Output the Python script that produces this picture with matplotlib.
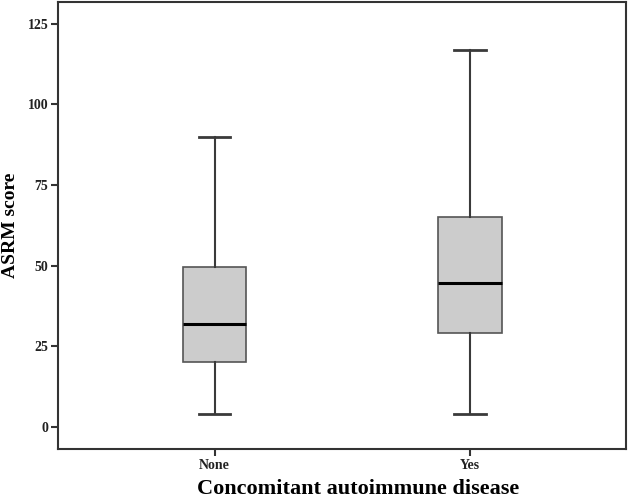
import matplotlib
matplotlib.use("Agg")
import matplotlib.pyplot as plt

categories = ["None", "Yes"]
whisker_low = [4, 4]
q1 = [20.0, 29.0]
median = [32.0, 44.5]
q3 = [49.5, 65.0]
whisker_high = [90, 117]
yticks = [0, 25, 50, 75, 100, 125]

plt.rcParams['font.family'] = ['Liberation Serif', 'DejaVu Serif']

fig = plt.figure(figsize=(6.29, 5.01), dpi=100)
ax = fig.add_axes([58/629, (501-449.3)/501, 568/629, 447.3/501])

stats = []
for c, lo, a, m, b, hi in zip(categories, whisker_low, q1, median, q3, whisker_high):
    stats.append(dict(label=c, whislo=lo, q1=a, med=m, q3=b, whishi=hi, fliers=[]))

edge = "#3a3a3a"
ax.bxp(stats, positions=[1, 2], widths=0.25, patch_artist=True, showfliers=False,
       boxprops=dict(facecolor="#cccccc", edgecolor="#555555", linewidth=1.2),
       medianprops=dict(color="black", linewidth=2.2),
       whiskerprops=dict(color=edge, linewidth=1.5),
       capprops=dict(color=edge, linewidth=2.0),
       capwidths=0.124)

ax.set_xlim(0.3875, 2.61)
ax.set_ylim(-7.0, 131.8)
ax.set_yticks(yticks)
ax.set_yticklabels([str(v) for v in yticks])
ax.set_xticks([1, 2])
ax.set_xticklabels(categories)
for s in ax.spines.values():
    s.set_linewidth(1.5)
    s.set_color("#333333")
ax.tick_params(axis='both', direction='out', length=5, width=1.5, color="#333333",
               labelsize=10, labelcolor="#222222", pad=2)
for lbl in ax.get_xticklabels() + ax.get_yticklabels():
    lbl.set_fontweight('bold')

ax.set_ylabel("ASRM score", fontsize=14, fontweight='bold', labelpad=6)
fig.text(358/629, 1 - 489/501, "Concomitant autoimmune disease", fontsize=16,
         fontweight='bold', ha='center', va='center')

fig.savefig("out.png", dpi=100)
